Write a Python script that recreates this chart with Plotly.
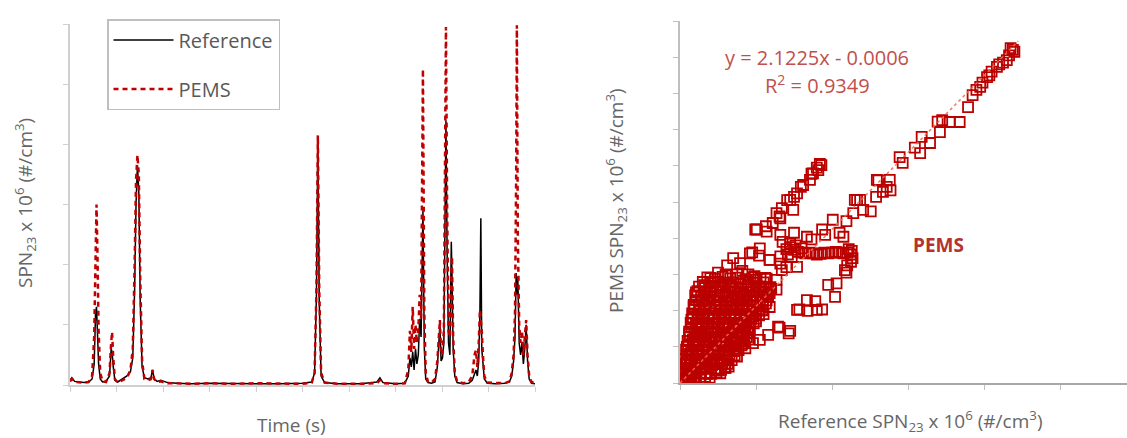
import plotly.graph_objects as go

W, H = 1127, 438

# ---------------- Left panel: time series ----------------
time_s = [0, 8, 20, 40, 60, 80, 95, 104, 110, 114, 118, 123, 130, 140, 155, 170, 177, 181, 186, 193,
          205, 225, 245, 260, 270, 278, 284, 290, 296, 302, 310, 320, 335, 348, 355, 362, 375, 390,
          420, 460, 520, 600, 700, 800, 900, 1000, 1040, 1052, 1060, 1066, 1072, 1080, 1095, 1150,
          1250, 1320, 1333, 1346, 1400, 1440, 1455, 1462, 1468, 1474, 1480, 1486, 1492, 1498, 1504,
          1510, 1518, 1524, 1530, 1540, 1555, 1570, 1580, 1586, 1591, 1596, 1602, 1608, 1613, 1617,
          1622, 1628, 1634, 1640, 1643, 1648, 1655, 1665, 1690, 1715, 1730, 1740, 1746, 1752, 1758,
          1763, 1767, 1771, 1776, 1782, 1795, 1830, 1870, 1890, 1900, 1908, 1914, 1919, 1922, 1926,
          1932, 1938, 1944, 1950, 1956, 1962, 1968, 1975, 1985, 2000]

ref_spn = [0.08, 0.12, 0.06, 0.05, 0.04, 0.05, 0.10, 0.35, 1.20, 1.30, 0.90, 0.35, 0.10, 0.05, 0.06, 0.15, 0.60, 0.55, 0.30, 0.08,
           0.05, 0.10, 0.15, 0.22, 0.45, 1.60, 3.00, 3.65, 3.20, 1.40, 0.30, 0.12, 0.10, 0.12, 0.25, 0.10, 0.06, 0.08,
           0.04, 0.03, 0.02, 0.03, 0.02, 0.02, 0.02, 0.03, 0.05, 0.20, 1.50, 4.10, 1.40, 0.15, 0.04, 0.02,
           0.02, 0.05, 0.12, 0.04, 0.02, 0.03, 0.15, 0.45, 0.30, 0.55, 0.25, 0.60, 0.35, 0.50, 1.10,
           0.80, 2.90, 0.60, 0.10, 0.04, 0.03, 0.05, 0.30, 0.60, 1.00, 0.40, 0.45, 0.70, 2.50, 4.40,
           2.20, 0.70, 0.50, 2.38, 1.80, 0.60, 0.15, 0.04, 0.02, 0.03, 0.08, 0.20, 0.25, 0.15, 0.40,
           1.20, 2.77, 0.60, 0.30, 0.10, 0.03, 0.02, 0.03, 0.05, 0.15, 0.40, 0.80, 1.86, 1.50, 1.80,
           0.70, 0.50, 0.70, 0.35, 0.60, 1.00, 0.40, 0.10, 0.03, 0.02]

pems_spn = [0.06, 0.10, 0.05, 0.04, 0.04, 0.05, 0.15, 0.80, 2.40, 3.00, 2.20, 0.90, 0.20, 0.06, 0.05, 0.20, 0.70, 0.88, 0.45, 0.10,
            0.04, 0.08, 0.12, 0.25, 0.60, 2.00, 3.40, 3.82, 3.50, 1.80, 0.40, 0.10, 0.08, 0.10, 0.25, 0.10, 0.05, 0.06,
            0.03, 0.03, 0.02, 0.03, 0.02, 0.03, 0.02, 0.02, 0.04, 0.20, 1.60, 4.15, 1.60, 0.20, 0.04, 0.02,
            0.02, 0.03, 0.08, 0.03, 0.02, 0.03, 0.25, 0.90, 0.55, 1.30, 0.60, 1.00, 0.70, 0.90, 1.50,
            1.10, 5.25, 1.20, 0.20, 0.05, 0.04, 0.10, 0.40, 0.70, 1.08, 0.50, 0.55, 0.90, 3.50, 5.95,
            3.00, 0.90, 0.80, 1.60, 2.13, 0.80, 0.20, 0.06, 0.03, 0.05, 0.15, 0.50, 0.58, 0.30, 0.70,
            1.25, 1.10, 0.90, 0.50, 0.15, 0.04, 0.03, 0.03, 0.06, 0.20, 0.50, 1.20, 3.50, 5.98, 2.50,
            1.00, 0.70, 0.90, 0.50, 0.75, 1.08, 0.50, 0.15, 0.05, 0.03]

# ---------------- Right panel: scatter ----------------
# dense core of low-concentration points near the origin
core_ref = [
    0.03, 0.09, 0.15, 0.21, 0.27, 0.33, 0.39,
    0.06, 0.13, 0.20, 0.27, 0.34, 0.41, 0.48,
    0.05, 0.12, 0.19, 0.26, 0.33, 0.40, 0.47, 0.54, 0.59,
    0.07, 0.14, 0.21, 0.28, 0.35, 0.42, 0.49, 0.56, 0.63,
    0.06, 0.13, 0.20, 0.27, 0.34, 0.41, 0.48, 0.55, 0.62, 0.68,
    0.09, 0.16, 0.23, 0.30, 0.37, 0.44, 0.51, 0.58, 0.65, 0.72,
    0.08, 0.15, 0.22, 0.29, 0.36, 0.43, 0.50, 0.57, 0.64, 0.71, 0.77,
    0.11, 0.18, 0.25, 0.32, 0.39, 0.46, 0.53, 0.60, 0.67, 0.74, 0.81,
    0.10, 0.17, 0.24, 0.31, 0.38, 0.45, 0.52, 0.59, 0.66, 0.73, 0.80, 0.85,
    0.13, 0.20, 0.27, 0.34, 0.41, 0.48, 0.55, 0.62, 0.69, 0.76, 0.83, 0.88,
    0.12, 0.19, 0.26, 0.33, 0.40, 0.47, 0.54, 0.61, 0.68, 0.75, 0.82, 0.89,
    0.15, 0.22, 0.29, 0.36, 0.43, 0.50, 0.57, 0.64, 0.71, 0.78, 0.85, 0.92,
    0.14, 0.21, 0.28, 0.35, 0.42, 0.49, 0.56, 0.63, 0.70, 0.77, 0.84, 0.91, 0.97,
    0.17, 0.24, 0.31, 0.38, 0.45, 0.52, 0.59, 0.66, 0.73, 0.80, 0.87, 0.94, 1.00,
    0.16, 0.23, 0.30, 0.37, 0.44, 0.51, 0.58, 0.65, 0.72, 0.79, 0.86, 0.93, 1.00, 1.04,
    0.19, 0.26, 0.33, 0.40, 0.47, 0.54, 0.61, 0.68, 0.75, 0.82, 0.89, 0.96, 1.03, 1.08,
    0.18, 0.25, 0.32, 0.39, 0.46, 0.53, 0.60, 0.67, 0.74, 0.81, 0.88, 0.95, 1.02, 1.09,
    0.21, 0.29, 0.37, 0.45, 0.53, 0.61, 0.69, 0.77, 0.85, 0.93, 1.01, 1.09, 1.14,
    0.20, 0.28, 0.36, 0.44, 0.52, 0.60, 0.68, 0.76, 0.84, 0.92, 1.00, 1.08, 1.16,
    0.23, 0.31, 0.39, 0.47, 0.55, 0.63, 0.71, 0.79, 0.87, 0.95, 1.03, 1.11, 1.17,
    0.25, 0.33, 0.41, 0.49, 0.57, 0.65, 0.73, 0.81, 0.89, 0.97, 1.05, 1.13, 1.19,
    0.30, 0.40, 0.50, 0.60, 0.70, 0.80, 0.90, 1.00, 1.10,
    0.36, 0.46, 0.56, 0.66, 0.76, 0.86, 0.96, 1.06, 1.12,
]
core_pems = [
    0.14, 0.18, 0.12, 0.16, 0.13, 0.17, 0.15,
    0.29, 0.26, 0.30, 0.27, 0.28, 0.25, 0.29,
    0.42, 0.38, 0.41, 0.37, 0.43, 0.39, 0.40, 0.36, 0.42,
    0.54, 0.51, 0.55, 0.52, 0.53, 0.50, 0.54, 0.52, 0.53,
    0.66, 0.62, 0.68, 0.64, 0.63, 0.67, 0.65, 0.61, 0.66, 0.63,
    0.79, 0.76, 0.80, 0.77, 0.78, 0.75, 0.79, 0.77, 0.78, 0.76,
    0.92, 0.88, 0.91, 0.87, 0.93, 0.89, 0.90, 0.86, 0.92, 0.88, 0.91,
    1.04, 1.01, 1.05, 1.02, 1.03, 1.00, 1.04, 1.02, 1.03, 1.01, 1.04,
    1.16, 1.12, 1.18, 1.14, 1.13, 1.17, 1.15, 1.11, 1.16, 1.13, 1.17, 1.14,
    1.29, 1.26, 1.30, 1.27, 1.28, 1.25, 1.29, 1.27, 1.28, 1.26, 1.29, 1.27,
    1.42, 1.38, 1.41, 1.37, 1.43, 1.39, 1.40, 1.36, 1.42, 1.38, 1.41, 1.39,
    1.54, 1.51, 1.55, 1.52, 1.53, 1.50, 1.54, 1.52, 1.53, 1.51, 1.54, 1.52,
    1.66, 1.62, 1.68, 1.64, 1.63, 1.67, 1.65, 1.61, 1.66, 1.63, 1.67, 1.64, 1.65,
    1.79, 1.76, 1.80, 1.77, 1.78, 1.75, 1.79, 1.77, 1.78, 1.76, 1.79, 1.77, 1.78,
    1.92, 1.88, 1.91, 1.87, 1.93, 1.89, 1.90, 1.86, 1.92, 1.88, 1.91, 1.89, 1.90, 1.87,
    2.04, 2.01, 2.05, 2.02, 2.03, 2.00, 2.04, 2.02, 2.03, 2.01, 2.04, 2.02, 2.03, 2.01,
    2.16, 2.12, 2.18, 2.14, 2.13, 2.17, 2.15, 2.11, 2.16, 2.13, 2.17, 2.14, 2.15, 2.12,
    2.29, 2.26, 2.30, 2.27, 2.28, 2.25, 2.29, 2.27, 2.28, 2.26, 2.29, 2.27, 2.28,
    2.42, 2.38, 2.41, 2.37, 2.43, 2.39, 2.40, 2.36, 2.42, 2.38, 2.41, 2.39, 2.40,
    2.54, 2.51, 2.55, 2.52, 2.53, 2.50, 2.54, 2.52, 2.53, 2.51, 2.54, 2.52, 2.53,
    2.66, 2.62, 2.68, 2.64, 2.63, 2.67, 2.65, 2.61, 2.66, 2.63, 2.67, 2.64, 2.65,
    2.79, 2.76, 2.80, 2.77, 2.78, 2.75, 2.79, 2.77, 2.78,
    2.92, 2.88, 2.93, 2.89, 2.91, 2.87, 2.92, 2.88, 2.90,
]

scatter_ref = [
    # wedge near origin
    0.03, 0.06, 0.09, 0.12, 0.15, 0.18, 0.21,
    0.05, 0.10, 0.15, 0.20, 0.25, 0.30, 0.35, 0.40, 0.45, 0.50,
    0.08, 0.15, 0.22, 0.30, 0.37, 0.45, 0.52, 0.60, 0.67, 0.75, 0.82,
    0.10, 0.20, 0.30, 0.40, 0.50, 0.60, 0.70, 0.80, 0.90, 0.98,
    0.12, 0.24, 0.36, 0.48, 0.60, 0.72, 0.84, 0.96, 1.06, 1.14,
    0.05, 0.15, 0.25, 0.35, 0.45, 0.55, 0.65, 0.75, 0.85, 0.95, 1.05, 1.15, 1.20,
    0.10, 0.20, 0.30, 0.40, 0.50, 0.60, 0.70, 0.80, 0.90, 1.00, 1.10, 1.18,
    0.15, 0.30, 0.45, 0.60, 0.72, 0.82, 0.90,
    0.20, 0.35, 0.50, 0.60,
    0.02, 0.04, 0.07, 0.03, 0.10, 0.12, 0.18, 0.08, 0.12, 0.17, 0.22, 0.26, 0.28, 0.32, 0.40,
    0.60, 0.90, 1.00, 0.55, 0.62, 0.70, 0.78, 0.88, 0.45, 0.55, 0.65, 0.75, 0.85, 0.95, 1.05,
    0.35, 0.25, 0.42, 0.52, 0.62, 0.72,
    # lower branch
    1.43, 1.29, 1.16, 1.05, 0.96, 0.86, 0.75, 0.64, 0.53,
    # middle fill right of wedge
    1.27, 1.18, 1.13, 0.96, 0.86, 1.27, 1.34, 1.54, 1.18, 1.32, 1.40,
    # upper branch
    1.86, 1.82, 1.75, 1.71, 1.62, 1.54, 1.45, 1.49, 1.34, 1.32, 1.80, 1.84, 1.27,
    1.14, 1.32, 1.05, 0.92, 1.18, 1.32, 0.79,
    1.01, 1.13, 1.31, 1.41, 1.50, 1.59, 1.73, 0.95, 1.04, 1.22, 0.99, 0.70, 0.62,
    # middle cluster
    2.77, 2.58, 2.33, 2.28, 2.51, 2.19, 2.01, 1.87, 2.10, 1.50, 1.73, 1.67, 1.91, 2.15, 2.37,
    # blob
    1.40, 1.45, 1.50, 1.55, 1.60, 1.65, 1.70, 1.75, 1.80, 1.85, 1.90, 1.95, 2.00, 2.05, 2.10,
    2.15, 2.20, 2.25, 2.27, 2.25, 2.20, 2.17, 2.19, 1.45, 1.52, 1.60, 2.22, 2.26, 1.35, 1.42, 1.47,
    # below blob
    1.95, 2.06, 2.04, 1.78, 1.68, 1.57, 1.87, 1.80, 1.67, 1.54, 1.31, 1.45,
    # main diagonal
    2.30, 2.41, 2.59, 2.67, 2.76, 2.89, 2.93, 3.16, 3.18, 3.29, 3.42, 3.45, 3.55, 3.68, 3.79,
    3.85, 3.90, 3.95, 3.98, 4.04, 4.07, 4.10, 4.17, 4.20, 4.25, 4.30, 4.33, 4.35, 4.38, 4.40,
    2.61, 2.72, 3.09, 3.39,
]
scatter_pems = [
    0.30, 0.65, 1.00, 1.35, 1.75, 2.10, 2.50,
    0.30, 0.60, 0.90, 1.20, 1.50, 1.85, 2.20, 2.50, 2.80, 3.05,
    0.30, 0.60, 0.90, 1.20, 1.50, 1.80, 2.10, 2.40, 2.70, 3.00, 3.10,
    0.30, 0.60, 0.90, 1.20, 1.50, 1.80, 2.10, 2.40, 2.70, 2.95,
    0.30, 0.60, 0.90, 1.20, 1.50, 1.80, 2.10, 2.40, 2.65, 2.88,
    0.10, 0.32, 0.53, 0.74, 0.95, 1.16, 1.37, 1.58, 1.80, 2.00, 2.22, 2.44, 2.60,
    0.17, 0.34, 0.50, 0.68, 0.85, 1.02, 1.20, 1.36, 1.53, 1.70, 1.90, 2.10,
    0.20, 0.40, 0.58, 0.78, 0.95, 1.08, 1.20,
    0.12, 0.25, 0.35, 0.42,
    0.05, 0.12, 0.15, 0.02, 0.05, 0.12, 0.08, 0.50, 0.80, 1.20, 1.60, 2.00, 2.40, 2.70, 2.90,
    3.00, 3.00, 2.85, 2.70, 2.20, 2.60, 2.20, 2.30, 1.55, 1.90, 1.60, 1.40, 1.60, 1.85, 2.00,
    1.00, 0.90, 0.50, 0.60, 0.70, 1.10,
    1.37, 1.56, 1.33, 1.19, 1.10, 0.96, 0.73, 0.45, 0.27,
    2.85, 2.48, 2.20, 1.92, 1.46, 2.58, 3.12, 3.21, 3.40, 3.30, 3.20,
    6.02, 5.88, 5.79, 5.61, 5.47, 5.24, 5.06, 4.78, 4.83, 4.55, 5.95, 6.05, 4.69,
    4.18, 4.09, 3.72, 3.58, 3.40, 3.50, 3.31,
    4.24, 4.33, 4.60, 5.05, 5.14, 5.42, 5.78, 3.61, 3.52, 4.42, 4.24, 3.45, 3.25,
    5.32, 5.14, 5.05, 4.69, 4.74, 4.47, 4.51, 4.24, 4.15, 4.15, 3.97, 4.04, 4.09, 4.04, 5.06,
    3.70, 3.75, 3.68, 3.62, 3.60, 3.58, 3.60, 3.58, 3.55, 3.57, 3.60, 3.58, 3.60, 3.62, 3.60,
    3.58, 3.60, 3.55, 3.45, 3.35, 3.25, 3.12, 3.05, 3.85, 3.80, 3.72, 3.70, 3.65, 3.90, 3.55, 3.48,
    2.71, 2.75, 2.38, 2.26, 1.99, 2.03, 2.03, 2.02, 2.29, 2.02, 1.53, 1.44,
    5.06, 4.78, 5.61, 5.28, 5.61, 6.24, 6.08, 6.35, 6.80, 6.63, 6.93, 7.26, 7.21, 7.21, 7.62,
    7.95, 8.10, 8.18, 8.30, 8.45, 8.50, 8.60, 8.73, 8.80, 8.85, 8.92, 9.05, 9.25, 9.20, 9.15,
    5.60, 5.42, 6.50, 7.22,
]

trend_slope = 2.1225
trend_intercept = -0.0006
trend_x = [0.0, 4.45]
trend_y = [trend_slope * v + trend_intercept for v in trend_x]

# ---------------- Figure ----------------
RED = "#c00000"
SQ = "#bb0000"
GRAY_TXT = "#666666"
AXIS_L = "#d0d0d0"
AXIS_R = "#bfbfbf"
FONT = "Open Sans"

fig = go.Figure()

fig.add_trace(go.Scatter(x=time_s, y=ref_spn, mode="lines", name="Reference",
                         line=dict(color="black", width=1.5), legendgroup="a",
                         xaxis="x", yaxis="y"))
fig.add_trace(go.Scatter(x=time_s, y=pems_spn, mode="lines", name="PEMS",
                         line=dict(color=RED, width=2.5, dash="5px,4px"), legendgroup="b",
                         xaxis="x", yaxis="y"))

fig.add_trace(go.Scatter(x=core_ref + scatter_ref, y=core_pems + scatter_pems, mode="markers",
                         name="PEMS scatter",
                         marker=dict(symbol="square-open", size=10, color=SQ,
                                     line=dict(width=1.8, color=SQ)),
                         showlegend=False, xaxis="x2", yaxis="y2"))
fig.add_trace(go.Scatter(x=trend_x, y=trend_y, mode="lines", name="Linear (PEMS)",
                         line=dict(color="rgba(235,110,80,0.9)", width=1.5, dash="dot"),
                         showlegend=False, xaxis="x2", yaxis="y2"))

def px_x(p):
    return p / W

def px_y(p):
    return 1 - p / H

axis_common = dict(showgrid=False, zeroline=False, showticklabels=False, ticks="outside",
                   ticklen=5, tickwidth=1.2, showline=True, linewidth=1.5, fixedrange=True)

fig.update_layout(
    width=W, height=H,
    margin=dict(l=0, r=0, t=0, b=0),
    paper_bgcolor="white", plot_bgcolor="white",
    font=dict(family=FONT, color=GRAY_TXT),
    xaxis=dict(domain=[px_x(70), px_x(535)], range=[0, 2000], dtick=200,
               linecolor=AXIS_L, tickcolor=AXIS_L, anchor="y", **axis_common),
    yaxis=dict(domain=[px_y(385), px_y(24)], range=[0, 6], dtick=1,
               linecolor=AXIS_L, tickcolor=AXIS_L, anchor="x", **axis_common),
    xaxis2=dict(domain=[px_x(680), 1.0], range=[0, 447 / 76], dtick=1,
                linecolor="#a8a8a8", tickcolor=AXIS_R, anchor="y2", **axis_common),
    yaxis2=dict(domain=[px_y(383), px_y(21)], range=[0, 10], dtick=1,
                linecolor=AXIS_R, tickcolor=AXIS_R, anchor="x2", **axis_common),
    showlegend=True,
    legend=dict(x=px_x(107), y=px_y(19), xanchor="left", yanchor="top",
                bordercolor="#bfbfbf", borderwidth=1.5, bgcolor="white",
                font=dict(size=20, color="#595959", family=FONT),
                itemwidth=60, traceorder="grouped", tracegroupgap=20),
)

annos = [
    dict(text="SPN<sub>23</sub> x 10<sup>6</sup> (#/cm<sup>3</sup>)", x=px_x(25), y=px_y(203),
         textangle=-90, font=dict(size=19, color=GRAY_TXT)),
    dict(text="Time (s)", x=px_x(291), y=px_y(425), font=dict(size=19, color=GRAY_TXT)),
    dict(text="PEMS SPN<sub>23</sub> x 10<sup>6</sup> (#/cm<sup>3</sup>)", x=px_x(616), y=px_y(201),
         textangle=-90, font=dict(size=19, color=GRAY_TXT)),
    dict(text="Reference SPN<sub>23</sub> x 10<sup>6</sup> (#/cm<sup>3</sup>)", x=px_x(910), y=px_y(421),
         font=dict(size=19, color=GRAY_TXT)),
    dict(text="y = 2.1225x - 0.0006", x=px_x(817), y=px_y(58), font=dict(size=20, color="#c0504d")),
    dict(text="R<sup>2</sup> = 0.9349", x=px_x(817), y=px_y(85), font=dict(size=20, color="#c0504d")),
    dict(text="<b>PEMS</b>", x=px_x(938), y=px_y(245), font=dict(size=19, color="#b5332e")),
]
for a in annos:
    a.update(xref="paper", yref="paper", showarrow=False, xanchor="center", yanchor="middle")
fig.update_layout(annotations=annos)

fig.write_html("out.html")
